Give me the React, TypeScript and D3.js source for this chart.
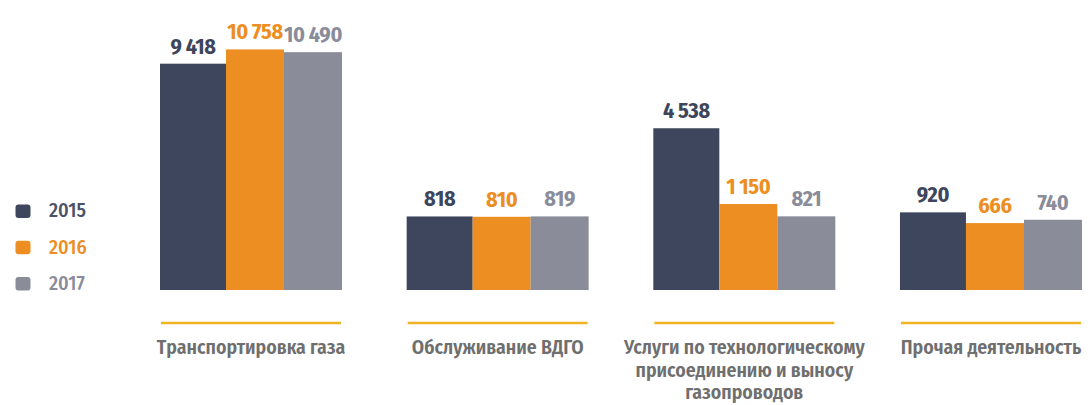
import React from "react";
import * as d3 from "d3";

const categories = [
  "Транспортировка газа",
  "Обслуживание ВДГО",
  "Услуги по технологическому присоединению и выносу газопроводов",
  "Прочая деятельность",
];
const categoryLines = [
  ["Транспортировка газа"],
  ["Обслуживание ВДГО"],
  ["Услуги по технологическому", "присоединению и выносу", "газопроводов"],
  ["Прочая деятельность"],
];
const years = ["2015", "2016", "2017"];
const values2015 = [9418, 818, 4538, 920];
const values2016 = [10758, 810, 1150, 666];
const values2017 = [10490, 819, 821, 740];
const series = [values2015, values2016, values2017];

const COLORS = ["#3d465c", "#ec8e22", "#8a8c9a"];
const LEGEND_TEXT = ["#4b5268", "#ec8e22", "#8a8c9a"];
const SERIES_W = [66, 58, 58];
const FONT = "'Fira Sans Condensed', 'Liberation Sans Narrow', 'DejaVu Sans Condensed', 'Roboto', sans-serif";

const fmt = d3.formatLocale({ decimal: ",", thousands: "\u2009", grouping: [3], currency: ["", ""] }).format(",d");

export default function App() {
  const W = 1090, H = 405;
  const base = 290;
  const x = d3.scaleBand<string>().domain(categories).range([160, 1082]).paddingInner(0.262);
  const y = d3.scalePow().exponent(0.46).domain([0, 12000]).range([base, 37]);
  const offsets = [0, ...d3.cumsum(SERIES_W)];

  return (
    <svg width={W} height={H} style={{ position: "absolute", left: 0, top: 0, background: "#fff" }} fontFamily={FONT}>
      {categories.map((c, ci) => {
        const x0 = x(c)!;
        const cx = x0 + x.bandwidth() / 2;
        return (
          <g key={c}>
            {series.map((vals, si) => {
              const v = vals[ci];
              const bx = x0 + offsets[si];
              const bw = SERIES_W[si];
              return (
                <g key={si}>
                  <rect x={bx} y={y(v)} width={bw} height={base - y(v)} fill={COLORS[si]} />
                  <text x={bx + bw / 2} y={y(v) - 10} textAnchor="middle" fontSize={22} fontWeight={700} letterSpacing={-0.3} fill={COLORS[si]}>
                    {fmt(v)}
                  </text>
                </g>
              );
            })}
            <line x1={cx - 90} x2={cx + 90} y1={323} y2={323} stroke="#f0b323" strokeWidth={2.5} />
            {categoryLines[ci].map((ln, li) => (
              <text key={li} x={cx} y={354 + li * 22.5} textAnchor="middle" fontSize={19.7} fontWeight={600} fill="#6f6f6f">
                {ln}
              </text>
            ))}
          </g>
        );
      })}
      {years.map((yr, i) => (
        <g key={yr}>
          <rect x={15.5} y={204.5 + i * 36.3} width={15} height={13.5} rx={3} fill={COLORS[i]} />
          <text x={49} y={217 + i * 36.5} fontSize={20} fontWeight={500} fill={LEGEND_TEXT[i]}>
            {yr}
          </text>
        </g>
      ))}
    </svg>
  );
}
